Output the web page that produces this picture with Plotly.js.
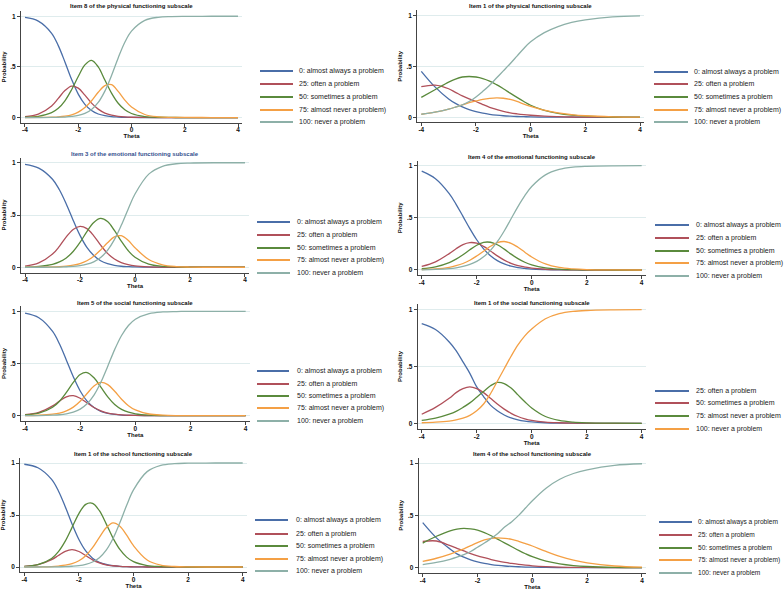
<!DOCTYPE html>
<html><head><meta charset="utf-8">
<script src="https://cdn.plot.ly/plotly-3.0.1.min.js"></script>
<style>html,body{margin:0;padding:0;background:#fff}#chart{width:784px;height:590px}</style>
</head><body><div id="chart"></div>
<script>
// ---------- data ----------
const THETA = [-4,-3.5,-3,-2.75,-2.5,-2.25,-2,-1.75,-1.5,-1.25,-1,-0.75,-0.5,-0.25,0,0.5,1,1.5,2,3,4];

const LABELS5 = ['0: almost always a problem','25: often a problem','50: sometimes a problem','75: almost never a problem)','100: never a problem'];
const LABELS4 = ['25: often a problem','50: sometimes a problem','75: almost never a problem','100: never a problem'];

const TITLES = ['Item 8 of the physical functioning subscale','Item 1 of the physical functioning subscale',
  'Item 3 of the emotional functioning subscale','Item 4 of the emotional functioning subscale',
  'Item 5 of the social functioning subscale','Item 1 of the social functioning subscale',
  'Item 1 of the school functioning subscale','Item 4 of the school functioning subscale'];

const X_TICKS = [-4,-2,0,2,4];
const X_TICKTEXT = ['-4','-2','0','2','4'];
const Y_TICKS = [0,0.5,1];
const Y_TICKTEXT = ['0','.5','1'];

// Item 8 physical
const phys8_p0   = [0.988,0.952,0.832,0.710,0.549,0.377,0.231,0.130,0.069,0.035,0.018,0.009,0.005,0.002,0.001,0,0,0,0,0,0];
const phys8_p25  = [0.009,0.034,0.115,0.189,0.266,0.310,0.290,0.221,0.142,0.083,0.044,0.023,0.012,0.006,0.003,0.001,0,0,0,0,0];
const phys8_p50  = [0.003,0.012,0.048,0.091,0.165,0.275,0.405,0.520,0.565,0.500,0.370,0.241,0.141,0.077,0.040,0.010,0.003,0.001,0,0,0];
const phys8_p75  = [0,0.001,0.004,0.007,0.014,0.027,0.053,0.098,0.166,0.250,0.315,0.325,0.258,0.172,0.103,0.030,0.007,0.002,0.001,0,0];
const phys8_p100 = [0,0,0.001,0.003,0.005,0.011,0.021,0.041,0.080,0.149,0.261,0.416,0.589,0.743,0.853,0.959,0.990,0.997,0.999,1,1];

// Item 1 physical
const phys1_p0   = [0.451,0.298,0.180,0.136,0.102,0.075,0.055,0.040,0.029,0.021,0.015,0.011,0.008,0.006,0.004,0.002,0.001,0.001,0,0,0];
const phys1_p25  = [0.300,0.315,0.280,0.245,0.210,0.180,0.155,0.125,0.098,0.077,0.058,0.044,0.034,0.026,0.020,0.011,0.006,0.003,0.002,0.001,0];
const phys1_p50  = [0.195,0.270,0.345,0.375,0.395,0.400,0.395,0.380,0.355,0.320,0.280,0.237,0.195,0.155,0.118,0.068,0.038,0.021,0.012,0.003,0.001];
const phys1_p75  = [0.030,0.050,0.080,0.100,0.122,0.143,0.160,0.175,0.185,0.190,0.187,0.175,0.155,0.130,0.108,0.070,0.043,0.026,0.015,0.005,0.002];
const phys1_p100 = [0.030,0.050,0.080,0.100,0.122,0.155,0.200,0.255,0.315,0.385,0.455,0.525,0.600,0.675,0.740,0.830,0.890,0.930,0.955,0.985,0.995];

// Item 3 emotional
const emo3_p0   = [0.985,0.949,0.842,0.741,0.605,0.450,0.305,0.190,0.112,0.063,0.035,0.019,0.010,0.006,0.003,0.001,0,0,0,0,0];
const emo3_p25  = [0.012,0.042,0.126,0.200,0.291,0.362,0.392,0.370,0.301,0.211,0.133,0.079,0.045,0.025,0.013,0.004,0.001,0,0,0,0];
const emo3_p50  = [0.002,0.008,0.028,0.051,0.089,0.151,0.238,0.341,0.429,0.467,0.437,0.352,0.250,0.160,0.096,0.030,0.009,0.003,0.001,0,0];
const emo3_p75  = [0,0.001,0.003,0.006,0.011,0.020,0.036,0.062,0.106,0.166,0.234,0.290,0.302,0.258,0.187,0.074,0.024,0.007,0.002,0,0];
const emo3_p100 = [0,0,0.001,0.002,0.005,0.008,0.016,0.029,0.052,0.093,0.161,0.264,0.401,0.556,0.701,0.891,0.966,0.990,0.997,1,1];

// Item 4 emotional
const emo4_p0   = [0.948,0.876,0.733,0.630,0.514,0.397,0.290,0.203,0.137,0.090,0.058,0.037,0.023,0.015,0.009,0.004,0.001,0.001,0,0,0];
const emo4_p25  = [0.034,0.078,0.157,0.204,0.244,0.263,0.257,0.226,0.182,0.135,0.095,0.064,0.042,0.028,0.017,0.007,0.003,0.001,0,0,0];
const emo4_p50  = [0.012,0.030,0.071,0.104,0.146,0.194,0.237,0.265,0.266,0.242,0.200,0.152,0.109,0.074,0.049,0.020,0.008,0.003,0.001,0,0];
const emo4_p75  = [0.004,0.010,0.026,0.041,0.062,0.093,0.134,0.180,0.227,0.262,0.273,0.256,0.218,0.171,0.125,0.058,0.024,0.010,0.004,0.001,0];
const emo4_p100 = [0.002,0.005,0.013,0.021,0.034,0.053,0.082,0.126,0.188,0.271,0.374,0.491,0.608,0.713,0.800,0.912,0.964,0.986,0.994,0.999,1];

// Item 5 social
const soc5_p0   = [0.983,0.939,0.807,0.686,0.532,0.373,0.237,0.139,0.078,0.042,0.023,0.012,0.006,0.003,0.002,0.001,0,0,0,0,0];
const soc5_p25  = [0.009,0.032,0.094,0.140,0.181,0.192,0.167,0.122,0.078,0.046,0.025,0.014,0.007,0.004,0.002,0,0,0,0,0,0];
const soc5_p50  = [0.007,0.024,0.081,0.139,0.223,0.319,0.395,0.413,0.363,0.273,0.180,0.107,0.061,0.033,0.018,0.005,0.001,0,0,0,0];
const soc5_p75  = [0.001,0.004,0.014,0.025,0.046,0.082,0.138,0.212,0.284,0.319,0.298,0.234,0.158,0.096,0.055,0.016,0.005,0.001,0,0,0];
const soc5_p100 = [0,0.001,0.005,0.009,0.018,0.034,0.063,0.114,0.197,0.320,0.474,0.633,0.768,0.864,0.924,0.978,0.994,0.998,1,1,1];

// Item 1 social (four categories)
const soc1_p25  = [0.877,0.825,0.716,0.640,0.540,0.440,0.320,0.235,0.160,0.110,0.073,0.047,0.030,0.019,0.012,0.005,0.002,0.001,0,0,0];
const soc1_p50  = [0.080,0.140,0.220,0.270,0.305,0.320,0.305,0.270,0.220,0.170,0.125,0.088,0.060,0.040,0.026,0.011,0.005,0.002,0.001,0,0];
const soc1_p75  = [0.025,0.045,0.080,0.105,0.140,0.180,0.230,0.280,0.330,0.360,0.350,0.310,0.250,0.190,0.135,0.060,0.025,0.010,0.004,0.001,0];
const soc1_p100 = [0.005,0.010,0.020,0.030,0.045,0.070,0.110,0.170,0.260,0.370,0.480,0.590,0.690,0.770,0.830,0.920,0.965,0.985,0.993,0.998,1];

// Item 1 school
const sch1_p0   = [0.988,0.954,0.842,0.731,0.580,0.413,0.264,0.154,0.085,0.045,0.024,0.012,0.006,0.003,0.002,0,0,0,0,0,0];
const sch1_p25  = [0.006,0.022,0.071,0.111,0.151,0.167,0.149,0.110,0.069,0.040,0.021,0.012,0.006,0.003,0.002,0,0,0,0,0,0];
const sch1_p50  = [0.006,0.023,0.082,0.148,0.249,0.381,0.514,0.602,0.612,0.541,0.415,0.278,0.169,0.095,0.051,0.014,0.004,0.001,0,0,0];
const sch1_p75  = [0,0.001,0.004,0.009,0.017,0.032,0.060,0.109,0.186,0.285,0.378,0.424,0.393,0.306,0.205,0.068,0.019,0.005,0.001,0,0];
const sch1_p100 = [0,0,0.001,0.002,0.003,0.007,0.013,0.025,0.048,0.089,0.162,0.274,0.426,0.593,0.741,0.917,0.977,0.994,0.998,1,1];

// Item 4 school
const sch4_p0   = [0.430,0.285,0.178,0.132,0.100,0.074,0.055,0.041,0.030,0.022,0.016,0.012,0.009,0.006,0.005,0.002,0.001,0.001,0,0,0];
const sch4_p25  = [0.250,0.255,0.210,0.185,0.160,0.135,0.113,0.095,0.078,0.063,0.050,0.040,0.031,0.024,0.018,0.010,0.005,0.003,0.002,0.001,0];
const sch4_p50  = [0.235,0.300,0.352,0.368,0.375,0.370,0.358,0.335,0.305,0.270,0.235,0.200,0.165,0.133,0.105,0.062,0.036,0.020,0.011,0.003,0.001];
const sch4_p75  = [0.060,0.090,0.130,0.155,0.180,0.210,0.240,0.265,0.280,0.285,0.280,0.270,0.252,0.230,0.207,0.155,0.108,0.072,0.046,0.016,0.005];
const sch4_p100 = [0.030,0.050,0.080,0.100,0.125,0.155,0.195,0.235,0.280,0.330,0.390,0.440,0.500,0.570,0.640,0.760,0.845,0.900,0.935,0.978,0.993];

// ---------- styles & layout geometry (pixels) ----------
const COLORS = ['#4a6ea8','#b0505a','#5a8a3c','#f4a045','#8db0a8'];
const W = 784, H = 590;
const FONT = 'Liberation Sans, Arial, sans-serif';

const panels = [
  {series:[phys8_p0,phys8_p25,phys8_p50,phys8_p75,phys8_p100], labels:LABELS5, box:[21.0,242.0,11.2,122.6], titleY:6, titleColor:'#111',
   leg:{x1:260,x2:293,tx:297,rows:[71,84,97,110,122],fs:7}},
  {series:[phys1_p0,phys1_p25,phys1_p50,phys1_p75,phys1_p100], labels:LABELS5, box:[417.2,644.1,10.2,122.4], titleY:6, titleColor:'#111',
   leg:{x1:654,x2:688,tx:692,rows:[72,84,97,110,122],fs:7}},
  {series:[emo3_p0,emo3_p25,emo3_p50,emo3_p75,emo3_p100], labels:LABELS5, box:[20.9,249.1,157.5,272.5], titleY:154, titleColor:'#34508e',
   leg:{x1:257,x2:290,tx:295,rows:[222,235,248,260,273],fs:7}},
  {series:[emo4_p0,emo4_p25,emo4_p50,emo4_p75,emo4_p100], labels:LABELS5, box:[417.6,645.8,160.5,275.2], titleY:157, titleColor:'#111',
   leg:{x1:655,x2:689,tx:694,rows:[225,238,251,263,276],fs:7}},
  {series:[soc5_p0,soc5_p25,soc5_p50,soc5_p75,soc5_p100], labels:LABELS5, box:[20.9,249.8,306.1,420.9], titleY:303, titleColor:'#111',
   leg:{x1:257,x2:289,tx:295,rows:[371,384,396,408,421],fs:7}},
  {series:[soc1_p25,soc1_p50,soc1_p75,soc1_p100], labels:LABELS4, box:[417.6,645.8,304.0,429.0], titleY:302.5, titleColor:'#111',
   leg:{x1:655,x2:689,tx:694,rows:[391,403,416,429],fs:7}},
  {series:[sch1_p0,sch1_p25,sch1_p50,sch1_p75,sch1_p100], labels:LABELS5, box:[20.2,246.8,457.8,572.2], titleY:454, titleColor:'#111',
   leg:{x1:255,x2:288,tx:294,rows:[520,534,546,559,571],fs:7}},
  {series:[sch4_p0,sch4_p25,sch4_p50,sch4_p75,sch4_p100], labels:LABELS5, box:[418.6,646.1,457.8,572.9], titleY:454, titleColor:'#111',
   leg:{x1:659,x2:692,tx:696,rows:[522,535,548,560,573],fs:6.6}}
];

const traces = [];
const layout = {
  width: W, height: H,
  margin: {l:0, r:0, t:0, b:0},
  paper_bgcolor: '#fff', plot_bgcolor: '#fff',
  showlegend: false,
  font: {family: FONT, color: '#111'},
  annotations: [], shapes: []
};

panels.forEach((p, i) => {
  const n = i + 1;
  const xa = n === 1 ? 'x' : 'x' + n;
  const ya = n === 1 ? 'y' : 'y' + n;
  const [L, R, T, B] = p.box;
  p.series.forEach((ys, k) => {
    traces.push({
      type: 'scatter', mode: 'lines', x: THETA, y: ys, name: p.labels[k],
      xaxis: xa, yaxis: ya,
      line: {color: COLORS[k], width: 1.3, shape: 'spline', smoothing: 1},
      hoverinfo: 'x+y+name'
    });
    // legend entry
    const ry = 1 - p.leg.rows[k] / H;
    layout.shapes.push({type:'line', xref:'paper', yref:'paper', x0:p.leg.x1/W, x1:p.leg.x2/W, y0:ry, y1:ry,
      line:{color:COLORS[k], width:2}});
    layout.annotations.push({xref:'paper', yref:'paper', x:p.leg.tx/W, y:ry, xanchor:'left', yanchor:'middle',
      text:p.labels[k], showarrow:false, font:{size:p.leg.fs, family:FONT, color:'#1a1a1a'}});
  });
  layout['xaxis' + (n === 1 ? '' : n)] = {
    domain: [L / W, R / W], range: [-4.15, 4.15], anchor: ya,
    tickmode: 'array', tickvals: X_TICKS, ticktext: X_TICKTEXT,
    ticks: 'outside', ticklen: 3, tickwidth: 1, tickcolor: '#444',
    ticklabelstandoff: -2,
    showline: true, linecolor: '#444', linewidth: 1,
    showgrid: false, zeroline: false, fixedrange: true,
    tickfont: {size: 6.5, family: FONT, color: '#111', weight: 'bold'},
    title: {text: 'Theta', font: {size: 6, family: FONT, color: '#111', weight: 'bold'}, standoff: 0}
  };
  layout['yaxis' + (n === 1 ? '' : n)] = {
    domain: [1 - B / H, 1 - T / H], range: [-0.05, 1.05], anchor: xa,
    tickmode: 'array', tickvals: Y_TICKS, ticktext: Y_TICKTEXT,
    ticks: 'outside', ticklen: 3, tickwidth: 1, tickcolor: '#444',
    showline: true, linecolor: '#444', linewidth: 1,
    showgrid: true, gridcolor: '#dfeced', gridwidth: 1, zeroline: false, fixedrange: true,
    tickfont: {size: 6.5, family: FONT, color: '#111', weight: 'bold'},
    title: {text: 'Probability', font: {size: 6, family: FONT, color: '#111', weight: 'bold'}, standoff: 3}
  };
  layout.annotations.push({xref:'paper', yref:'paper', x:(L + R) / 2 / W, y:1 - p.titleY / H,
    xanchor:'center', yanchor:'middle', text:TITLES[i], showarrow:false,
    font:{size:6, family:FONT, color:p.titleColor, weight:'bold'}});
});

Plotly.newPlot('chart', traces, layout, {displayModeBar: false, staticPlot: true});
</script>
</body></html>
